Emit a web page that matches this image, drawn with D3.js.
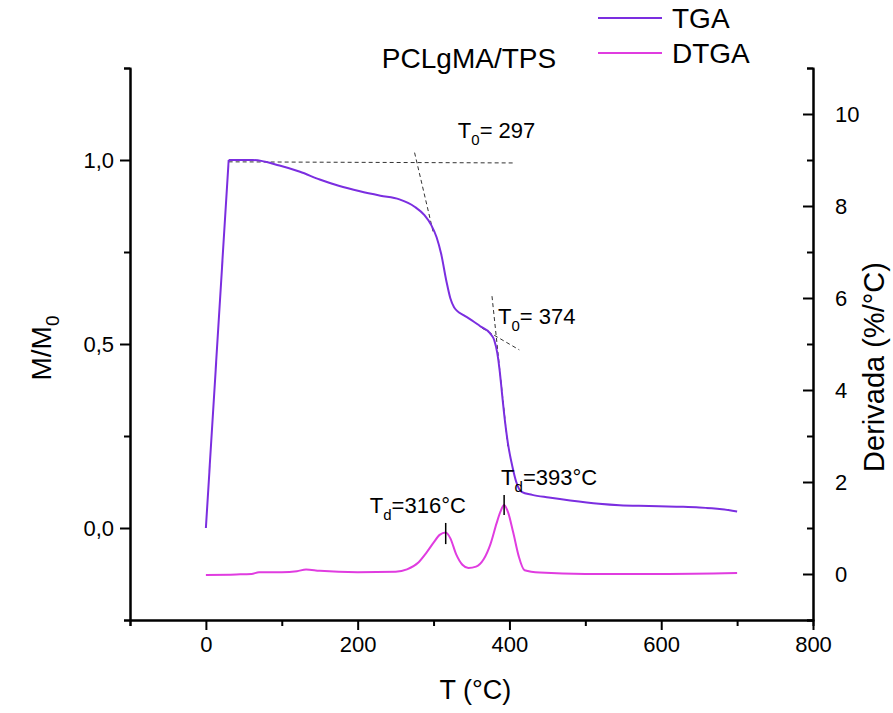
<!DOCTYPE html>
<html>
<head>
<meta charset="utf-8">
<script src="https://cdn.jsdelivr.net/npm/d3@7"></script>
<style>
  body { margin: 0; background: #fff; }
  svg text { font-family: "Liberation Sans", Arial, sans-serif; fill: #000; }
</style>
</head>
<body>
<div id="chart"></div>
<script>
// TGA: mass fraction vs temperature
const tgaT = [0, 30, 62, 97, 124, 150, 175, 203, 230, 255, 275, 288, 297, 304, 310, 317, 322, 327, 331, 340, 350, 361, 374, 380, 384, 387, 390, 393, 398, 404, 409, 416, 430, 452, 480, 518, 545, 584, 620, 650, 680, 700];
const tgaM = [0.0, 1.0, 1.0, 0.985, 0.968, 0.947, 0.93, 0.915, 0.903, 0.893, 0.873, 0.85, 0.823, 0.79, 0.745, 0.67, 0.625, 0.6, 0.59, 0.578, 0.565, 0.549, 0.53, 0.51, 0.475, 0.43, 0.37, 0.31, 0.23, 0.166, 0.125, 0.098, 0.09, 0.083, 0.075, 0.066, 0.062, 0.06, 0.058, 0.056, 0.051, 0.045];

// DTGA: derivative (%/°C)
const dtgT = [0, 40, 60, 70, 100, 120, 132, 150, 200, 250, 265, 280, 290, 300, 308, 316, 322, 330, 338, 346, 356, 366, 375, 383, 388, 393, 398, 405, 412, 420, 440, 500, 600, 700];
const dtgD = [-0.02, -0.01, 0.0, 0.04, 0.04, 0.06, 0.1, 0.07, 0.04, 0.05, 0.1, 0.25, 0.45, 0.68, 0.85, 0.9, 0.78, 0.42, 0.2, 0.13, 0.16, 0.32, 0.65, 1.1, 1.35, 1.5, 1.35, 0.9, 0.4, 0.08, 0.03, 0.0, 0.0, 0.02];

const xTicks = [0, 200, 400, 600, 800];
const xMinor = [-100, 100, 300, 500, 700];
const yLTicks = [0, 0.5, 1.0];
const yLMinor = [-0.25, 0.25, 0.75, 1.25];
const yRTicks = [0, 2, 4, 6, 8, 10];
const yRMinor = [-1, 1, 3, 5, 7, 9, 11];

// onset tangents (T, M/M0)
const tangents = [
  [[30, 0.995], [405, 0.992]],
  [[275, 1.02], [300, 0.80]],
  [[377, 0.63], [398, 0.22]],
  [[364, 0.543], [413, 0.484]]
];
const onsetLabels = [
  { t: 332, m: 1.06, main: 'T', sub: '0', rest: '= 297' },
  { t: 385, m: 0.555, main: 'T', sub: '0', rest: '= 374' }
];
// peak markers on DTGA (T, low, high)
const peaks = [
  { t: 316, lo: 0.65, hi: 1.11, lx: 216, ly: 1.32, label: '=316°C' },
  { t: 393, lo: 1.28, hi: 1.72, lx: 389, ly: 1.93, label: '=393°C' }
];

const W = 893, H = 713;
const m = { l: 130, r: 80, t: 68, b: 93 };

const svg = d3.select('#chart').append('svg').attr('width', W).attr('height', H);

const x = d3.scaleLinear().domain([-100, 800]).range([m.l, W - m.r]);
const yL = d3.scaleLinear().domain([-0.25, 1.25]).range([H - m.b, m.t]);
const yR = d3.scaleLinear().domain([-1, 11]).range([H - m.b, m.t]);

const fmtL = d => d3.format('.1f')(d).replace('.', ',');

// axes
function styleAxis(g) {
  g.select('.domain').attr('stroke', '#000').attr('stroke-width', 2);
  g.selectAll('.tick line').attr('stroke', '#000').attr('stroke-width', 2);
  g.selectAll('.tick text').style('font-size', '22px');
}

svg.append('g').attr('transform', `translate(0,${H - m.b})`)
  .call(d3.axisBottom(x).tickValues(xMinor).tickSize(6).tickFormat(''))
  .call(styleAxis);
svg.append('g').attr('transform', `translate(0,${H - m.b})`)
  .call(d3.axisBottom(x).tickValues(xTicks).tickSize(10).tickSizeOuter(0).tickPadding(6).tickFormat(d3.format('d')))
  .call(styleAxis);

svg.append('g').attr('transform', `translate(${m.l},0)`)
  .call(d3.axisLeft(yL).tickValues(yLMinor).tickSize(6).tickFormat(''))
  .call(styleAxis);
svg.append('g').attr('transform', `translate(${m.l},0)`)
  .call(d3.axisLeft(yL).tickValues(yLTicks).tickSize(10).tickSizeOuter(0).tickPadding(6).tickFormat(fmtL))
  .call(styleAxis);

svg.append('g').attr('transform', `translate(${W - m.r},0)`)
  .call(d3.axisRight(yR).tickValues(yRMinor).tickSize(-6).tickFormat(''))
  .call(styleAxis);
svg.append('g').attr('transform', `translate(${W - m.r},0)`)
  .call(d3.axisRight(yR).tickValues(yRTicks).tickSize(-10).tickSizeOuter(0).tickPadding(22).tickFormat(d3.format('d')))
  .call(styleAxis);

// tangents
svg.append('g').selectAll('line').data(tangents).join('line')
  .attr('x1', d => x(d[0][0])).attr('y1', d => yL(d[0][1]))
  .attr('x2', d => x(d[1][0])).attr('y2', d => yL(d[1][1]))
  .attr('stroke', '#333').attr('stroke-width', 1).attr('stroke-dasharray', '4,3');

// curves
const tga = tgaT.map((t, i) => [t, tgaM[i]]);
const dtg = dtgT.map((t, i) => [t, dtgD[i]]);

svg.append('path').datum(dtg)
  .attr('fill', 'none').attr('stroke', '#e03ce0').attr('stroke-width', 2)
  .attr('d', d3.line().x(d => x(d[0])).y(d => yR(d[1])).curve(d3.curveMonotoneX));

// straight heating ramp, then the smooth mass-loss curve
const tgaLine = d3.line().x(d => x(d[0])).y(d => yL(d[1]));
svg.append('path').datum(tga.slice(0, 2))
  .attr('fill', 'none').attr('stroke', '#7b2ee0').attr('stroke-width', 2)
  .attr('d', tgaLine);
svg.append('path').datum(tga.slice(1))
  .attr('fill', 'none').attr('stroke', '#7b2ee0').attr('stroke-width', 2)
  .attr('d', tgaLine.curve(d3.curveMonotoneX));

// annotations
function subLabel(g, px, py, main, sub, rest) {
  const t = g.append('text').attr('x', px).attr('y', py).style('font-size', '22px');
  t.append('tspan').text(main);
  t.append('tspan').attr('dy', 7).style('font-size', '15px').text(sub);
  t.append('tspan').attr('dy', -7).text(rest);
}
onsetLabels.forEach(d => subLabel(svg, x(d.t), yL(d.m), d.main, d.sub, d.rest));

svg.append('g').selectAll('line').data(peaks).join('line')
  .attr('x1', d => x(d.t)).attr('x2', d => x(d.t))
  .attr('y1', d => yR(d.lo)).attr('y2', d => yR(d.hi))
  .attr('stroke', '#000').attr('stroke-width', 1.5);
peaks.forEach(d => subLabel(svg, x(d.lx), yR(d.ly), 'T', 'd', d.label));

// title
svg.append('text').attr('x', 469).attr('y', 68).attr('text-anchor', 'middle')
  .style('font-size', '28px').text('PCLgMA/TPS');

// axis titles
svg.append('text').attr('x', x(355)).attr('y', 699).attr('text-anchor', 'middle')
  .style('font-size', '27px').text('T (°C)');

const yt = svg.append('text').attr('transform', `translate(51,${yL(0.5) + 4}) rotate(-90)`)
  .attr('text-anchor', 'middle').style('font-size', '28px');
yt.append('tspan').text('M/M');
yt.append('tspan').attr('dy', 8).style('font-size', '19px').text('0');

svg.append('text').attr('transform', `translate(884,${yR(4.5)}) rotate(-90)`)
  .attr('text-anchor', 'middle').style('font-size', '29px').text('Derivada (%/°C)');

// legend
const legend = [
  { name: 'TGA', color: '#7b2ee0', y: 18 },
  { name: 'DTGA', color: '#e03ce0', y: 53 }
];
const lg = svg.append('g').selectAll('g').data(legend).join('g');
lg.append('line').attr('x1', 598).attr('x2', 662).attr('y1', d => d.y).attr('y2', d => d.y)
  .attr('stroke', d => d.color).attr('stroke-width', 2);
lg.append('text').attr('x', 672).attr('y', d => d.y + 10).style('font-size', '28px').text(d => d.name);
</script>
</body>
</html>
